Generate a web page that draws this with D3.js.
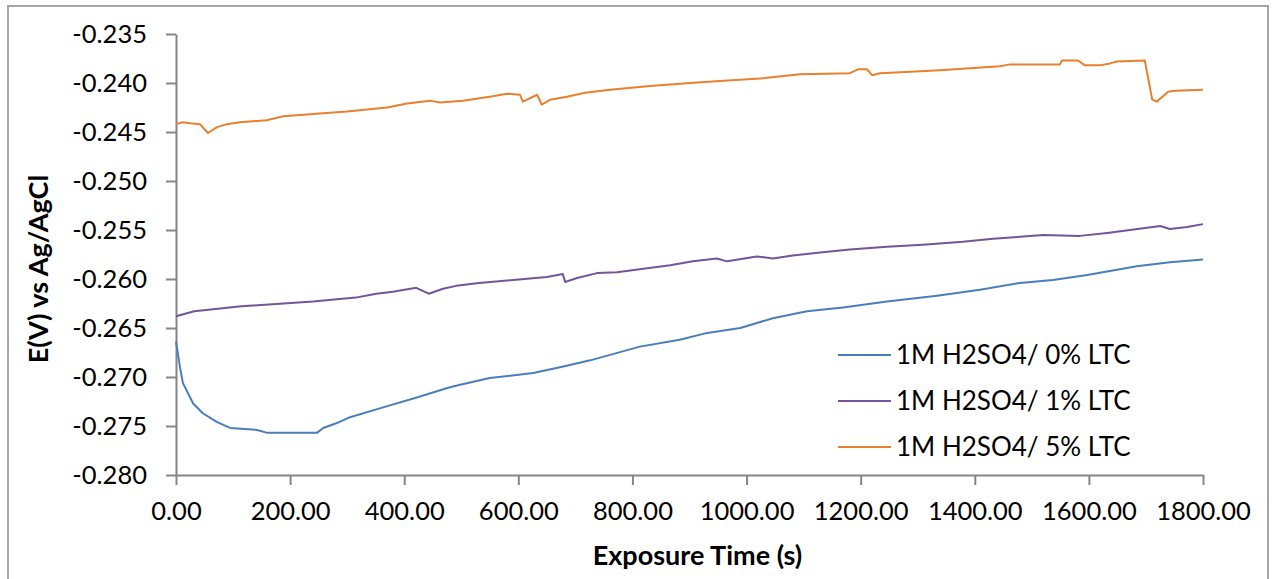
<!DOCTYPE html>
<html>
<head>
<meta charset="utf-8">
<script src="https://cdn.jsdelivr.net/npm/d3@7"></script>
<style>
  html, body { margin: 0; padding: 0; background: #fff; }
  svg { display: block; }
  text { font-family: Lato, "Liberation Sans", sans-serif; fill: #000; }
</style>
</head>
<body>
<svg id="chart" width="1272" height="579"></svg>
<script>
// Open-circuit potential vs exposure time for three inhibitor loadings
const seriesNames = ["1M H2SO4/ 0% LTC", "1M H2SO4/ 1% LTC", "1M H2SO4/ 5% LTC"];
const seriesColors = ["#4a7ebb", "#71569b", "#e7802f"];

// 1M H2SO4 / 0% LTC
const time0 = [0, 7, 12, 30, 47, 72, 95, 142, 160, 247, 258, 282, 305, 363, 422, 477, 498, 550, 626, 673, 726, 813, 883, 931, 989, 1046, 1106, 1169, 1246, 1334, 1409, 1479, 1537, 1597, 1684, 1742, 1800];
const volt0 = [-0.2664, -0.2690, -0.2706, -0.2727, -0.2737, -0.2746, -0.2752, -0.2754, -0.2757, -0.2757, -0.2752, -0.2747, -0.2741, -0.2731, -0.2721, -0.2711, -0.2708, -0.2701, -0.2696, -0.2690, -0.2683, -0.2669, -0.2662, -0.2655, -0.2650, -0.2640, -0.2633, -0.2629, -0.2623, -0.2617, -0.2611, -0.2604, -0.2601, -0.2596, -0.2587, -0.2583, -0.2580];

// 1M H2SO4 / 1% LTC
const time1 = [0, 32, 110, 240, 315, 351, 380, 421, 443, 468, 491, 531, 591, 650, 678, 682, 703, 738, 773, 826, 866, 906, 948, 966, 1018, 1046, 1081, 1129, 1181, 1246, 1309, 1379, 1432, 1479, 1520, 1584, 1632, 1672, 1725, 1742, 1772, 1800];
const volt1 = [-0.2638, -0.2633, -0.2628, -0.2623, -0.2619, -0.2615, -0.2613, -0.2609, -0.2615, -0.2610, -0.2607, -0.2604, -0.2601, -0.2598, -0.2595, -0.2603, -0.2599, -0.2594, -0.2593, -0.2589, -0.2586, -0.2582, -0.2579, -0.2582, -0.2577, -0.2579, -0.2576, -0.2573, -0.2570, -0.2567, -0.2565, -0.2562, -0.2559, -0.2557, -0.2555, -0.2556, -0.2553, -0.2550, -0.2546, -0.2549, -0.2547, -0.2544];

// 1M H2SO4 / 5% LTC
const time5 = [0, 12, 25, 42, 56, 72, 89, 112, 159, 188, 252, 300, 370, 405, 445, 463, 503, 550, 580, 603, 608, 633, 641, 656, 685, 717, 761, 831, 901, 953, 1032, 1094, 1181, 1195, 1211, 1220, 1234, 1339, 1444, 1462, 1549, 1553, 1581, 1593, 1619, 1637, 1649, 1698, 1711, 1719, 1739, 1751, 1800];
const volt5 = [-0.2442, -0.2440, -0.2441, -0.2442, -0.2451, -0.2445, -0.2442, -0.2440, -0.2438, -0.2434, -0.2431, -0.2429, -0.2425, -0.2421, -0.2418, -0.2420, -0.2418, -0.2414, -0.2411, -0.2412, -0.2419, -0.2412, -0.2422, -0.2417, -0.2414, -0.2410, -0.2407, -0.2403, -0.2400, -0.2398, -0.2395, -0.2391, -0.2390, -0.2386, -0.2386, -0.2392, -0.2390, -0.2387, -0.2383, -0.2381, -0.2381, -0.2377, -0.2377, -0.2382, -0.2382, -0.2380, -0.2378, -0.2377, -0.2417, -0.2419, -0.2409, -0.2408, -0.2407];

const xTicks = [0, 200, 400, 600, 800, 1000, 1200, 1400, 1600, 1800];
const xTickLabels = ["0.00", "200.00", "400.00", "600.00", "800.00", "1000.00", "1200.00", "1400.00", "1600.00", "1800.00"];
const yTicks = [-0.280, -0.275, -0.270, -0.265, -0.260, -0.255, -0.250, -0.245, -0.240, -0.235];
const yTickLabels = ["-0.280", "-0.275", "-0.270", "-0.265", "-0.260", "-0.255", "-0.250", "-0.245", "-0.240", "-0.235"];

const xTitle = "Exposure Time (s)";
const yTitle = "E(V) vs Ag/AgCl";

const svg = d3.select("#chart");
const margin = { left: 176, top: 34, right: 69, bottom: 104 };
const W = 1272, H = 579;
const plotW = W - margin.left - margin.right;
const plotH = H - margin.top - margin.bottom;

// outer chart frame
svg.append("rect")
  .attr("x", 8).attr("y", 6).attr("width", 1260).attr("height", 590)
  .attr("fill", "none").attr("stroke", "#a6a6a6").attr("stroke-width", 2);

const x = d3.scaleLinear().domain([0, 1800]).range([0, plotW]);
const y = d3.scaleLinear().domain([-0.280, -0.235]).range([plotH, 0]);

const g = svg.append("g").attr("transform", `translate(${margin.left},${margin.top})`);

const axisColor = "#868686";
const tickFont = 25.5;

// y axis
const yAxis = d3.axisLeft(y).tickValues(yTicks)
  .tickFormat((d, i) => yTickLabels[i]).tickSize(10).tickSizeOuter(0).tickPadding(19);
const yg = g.append("g").call(yAxis);
yg.select(".domain").attr("stroke", axisColor).attr("stroke-width", 2);
yg.selectAll(".tick line").attr("stroke", axisColor).attr("stroke-width", 2);
yg.selectAll(".tick text").attr("font-size", tickFont).attr("font-family", "Lato, sans-serif").attr("fill", "#000");

// x axis
const xAxis = d3.axisBottom(x).tickValues(xTicks)
  .tickFormat((d, i) => xTickLabels[i]).tickSize(10).tickSizeOuter(0).tickPadding(17);
const xg = g.append("g").attr("transform", `translate(0,${plotH})`).call(xAxis);
xg.select(".domain").attr("stroke", axisColor).attr("stroke-width", 2);
xg.selectAll(".tick line").attr("stroke", axisColor).attr("stroke-width", 2);
xg.selectAll(".tick text").attr("font-size", tickFont).attr("font-family", "Lato, sans-serif").attr("fill", "#000");

// series
const series = [
  { name: seriesNames[0], color: seriesColors[0], t: time0, v: volt0 },
  { name: seriesNames[1], color: seriesColors[1], t: time1, v: volt1 },
  { name: seriesNames[2], color: seriesColors[2], t: time5, v: volt5 }
];

const line = d3.line().x(d => x(d[0])).y(d => y(d[1]));
series.forEach(s => {
  g.append("path")
    .datum(s.t.map((t, i) => [t, s.v[i]]))
    .attr("fill", "none")
    .attr("stroke", s.color)
    .attr("stroke-width", 2)
    .attr("stroke-linejoin", "round")
    .attr("d", line);
});

// legend
const legend = svg.append("g").attr("transform", "translate(838,355)");
series.forEach((s, i) => {
  const row = legend.append("g").attr("transform", `translate(0,${i * 46})`);
  row.append("line").attr("x1", 0).attr("x2", 53).attr("y1", 0).attr("y2", 0)
    .attr("stroke", s.color).attr("stroke-width", 2);
  row.append("text").attr("x", 58).attr("y", 0).attr("dy", "0.35em")
    .attr("font-size", 26).text(s.name);
});

// axis titles
svg.append("text")
  .attr("x", margin.left + plotW / 2 + 8).attr("y", 556)
  .attr("dy", "0.35em")
  .attr("text-anchor", "middle").attr("font-weight", "bold").attr("font-size", 27)
  .text(xTitle);

svg.append("text")
  .attr("transform", `translate(39,269) rotate(-90)`)
  .attr("dy", "0.35em")
  .attr("text-anchor", "middle").attr("font-weight", "bold").attr("font-size", 27)
  .text(yTitle);
</script>
</body>
</html>
